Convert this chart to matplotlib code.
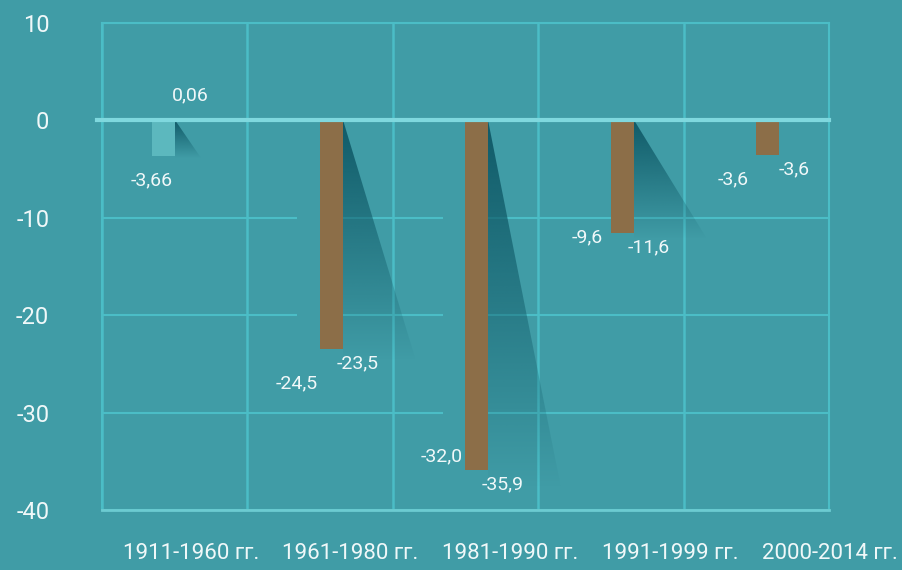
import numpy as np
import matplotlib
matplotlib.use('Agg')
from matplotlib import pyplot as plt
from matplotlib.patches import Polygon
from matplotlib.transforms import ScaledTranslation

periods = ['1911-1960 гг.', '1961-1980 гг.', '1981-1990 гг.', '1991-1999 гг.', '2000-2014 гг.']
series_a = [-3.66, -24.5, -32.0, -9.6, -3.6]
series_b = [0.06, -23.5, -35.9, -11.6, -3.6]
decimals = [2, 1, 1, 1, 1]
yticks = [10, 0, -10, -20, -30, -40]

bg = '#409ca6'
grid_c = '#4bbdc6'
brown = '#8c6e48'
txt = '#f0f8f9'
shade = '#0b5361'

plt.rcParams['font.family'] = ['Roboto', 'DejaVu Sans']

fig = plt.figure(figsize=(9.03, 5.7), dpi=100, facecolor=bg)
ax = fig.add_axes([0.113, 0.105, 0.805, 0.855])
ax.set_facecolor(bg)

x = np.arange(len(periods))
w = 0.158
colors_a = ['#5cb8be'] + [bg] * (len(periods) - 1)

ax.bar(x - w / 2, series_a, w, color=colors_a, zorder=3)
ax.bar(x + w / 2, series_b, w, color=brown, zorder=3)

# fading shadows to the right of the visible bars
grad = np.zeros((256, 1, 4))
grad[..., :3] = matplotlib.colors.to_rgb(shade)
grad[:, 0, 3] = np.linspace(0.9, 0.0, 256)


def shadow(xr, v):
    dx = 0.5 * min(1.0, abs(v) / 10.0)
    tri = Polygon([(xr, 0), (xr, v * 1.05), (xr + dx, v * 1.05)], closed=True,
                  facecolor='none', edgecolor='none', transform=ax.transData)
    ax.add_patch(tri)
    im = ax.imshow(grad, extent=(xr, xr + dx, v * 1.05, 0), aspect='auto',
                   origin='upper', zorder=2.5)
    im.set_clip_path(tri)


shadow(x[0], series_a[0])
for i, v in enumerate(series_b):
    if v < -3.6:
        shadow(x[i] + w, v)

ax.set_xlim(-0.5, len(periods) - 0.5)
ax.set_ylim(-40, 10)

ax.axhline(0, xmin=-0.007, xmax=1.0, color='#7fd8de', lw=3, zorder=5, clip_on=False)

# value labels
for i in range(len(periods)):
    fa = '{:.{}f}'.format(series_a[i], decimals[i]).replace('.', ',')
    fb = '{:.{}f}'.format(series_b[i], decimals[i]).replace('.', ',')
    ax.annotate(fa, (x[i] - w / 2, series_a[i]), xytext=(-12, -24),
                textcoords='offset pixels', ha='center', va='center',
                color=txt, fontsize=14, zorder=6)
    if series_b[i] >= 0:
        ax.annotate(fb, (x[i] + w / 2, series_b[i]), xytext=(4, 24),
                    textcoords='offset pixels', ha='center', va='center',
                    color=txt, fontsize=14, zorder=6)
    else:
        ax.annotate(fb, (x[i] + w / 2, series_b[i]), xytext=(26, -14),
                    textcoords='offset pixels', ha='center', va='center',
                    color=txt, fontsize=14, zorder=6)

ax.set_yticks(yticks)
ax.set_yticklabels([str(t) for t in yticks])
ax.set_xticks(x)
ax.set_xticklabels(periods)
ax.set_xticks(np.arange(-0.5, len(periods)), minor=True)
ax.tick_params(axis='both', which='both', length=0)
ax.tick_params(axis='y', pad=38, labelsize=17, labelcolor=txt)
ax.tick_params(axis='x', pad=24, labelsize=16, labelcolor=txt)

ax.set_axisbelow(True)
ax.grid(axis='y', which='major', color=grid_c, lw=1.5, zorder=1)
ax.grid(axis='x', which='minor', color=grid_c, lw=1.8, zorder=1)

for s in ['left', 'right', 'top']:
    ax.spines[s].set_color(grid_c)
    ax.spines[s].set_linewidth(1.5)
ax.spines['bottom'].set_color('#6ccbd1')
ax.spines['bottom'].set_linewidth(2)

# category labels drift to the right in the original layout
for i, lab in enumerate(ax.get_xticklabels()):
    off = ScaledTranslation((16 + 14.5 * i) / 100.0, 0, fig.dpi_scale_trans)
    lab.set_transform(lab.get_transform() + off)

fig.savefig('out.png', dpi=100, facecolor=bg)
